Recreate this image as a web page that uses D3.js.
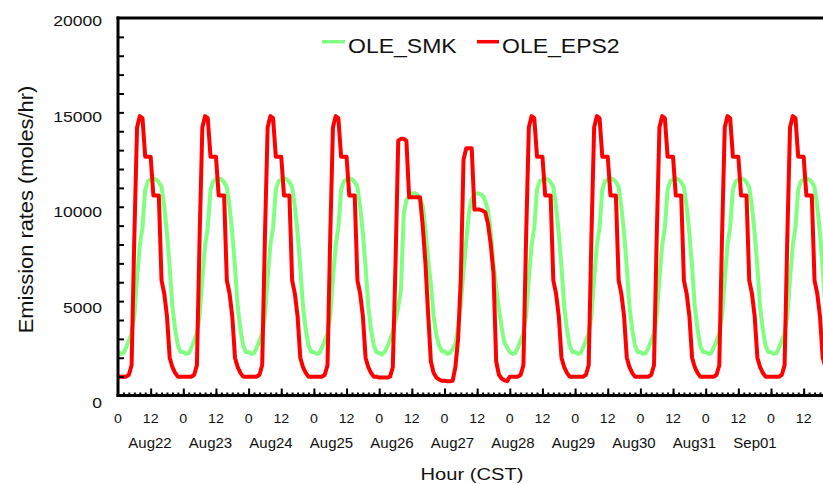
<!DOCTYPE html>
<html><head><meta charset="utf-8">
<script src="https://cdn.jsdelivr.net/npm/d3@7"></script>
<style>
body{margin:0;background:#fff}
svg{display:block}
text{font-family:"Liberation Sans",Arial,Helvetica,sans-serif;fill:#111}
</style>
</head><body>
<svg id="c" width="823" height="484"></svg>
<script>
// ---------------- data ----------------
const dayLabels = ["Aug22","Aug23","Aug24","Aug25","Aug26","Aug27","Aug28","Aug29","Aug30","Aug31","Sep01"];
const dayTypes  = ["wd","wd","wd","wd","sat","sun","wd","wd","wd","wd","wd"];
const hourTickLabels = ["0","12"];
const yTickLabels = [0,5000,10000,15000,20000];
const seriesNames = ["OLE_SMK","OLE_EPS2"];
const seriesColors = ["#80ff80","#ff0000"];

// hourly profiles (hour 0..23), moles/hr
const smkWeekday  = [2300,2200,2250,2550,2900,3300,4200,6200,7950,8900,10900,11350,11450,11500,11450,11300,11050,10000,8600,6800,4700,3500,2650,2300];
const smkSaturday = [2250,2170,2300,2600,2950,3400,4000,4700,5600,9600,10350,10550,10700,10720,10650,10400,10050,8800,7200,5900,4200,3200,2650,2350];
const smkSunday   = [2350,2200,2250,2450,2750,3600,4800,6600,8200,9700,10400,10650,10720,10680,10600,10300,9800,8700,7000,5700,4600,3600,2800,2550];

const epsWeekday  = [1000,1000,1000,1000,1100,1600,8400,14200,14800,14700,12650,12650,12650,10600,10600,10600,6100,5400,4200,2000,1500,1200,1000,1000];
const epsSaturday = [950,950,950,950,1000,1500,7000,13500,13600,13600,13500,10500,10500,10500,10500,10500,9000,7000,4300,1800,1200,950,850,780];
const epsSunday   = [780,760,760,780,1500,3000,6200,12500,13100,13100,13100,9850,9850,9850,9800,9700,9100,8000,6500,1800,1100,900,800,760];

// ---------------- build table ----------------
const profiles = {
  OLE_SMK:  {wd: smkWeekday, sat: smkSaturday, sun: smkSunday},
  OLE_EPS2: {wd: epsWeekday, sat: epsSaturday, sun: epsSunday}
};
const series = seriesNames.map((name, si) => {
  const pts = [];
  dayTypes.forEach((t, d) => {
    profiles[name][t].forEach((v, h) => pts.push({h: d*24 + h, v}));
  });
  return {name, color: seriesColors[si], pts};
});

// ---------------- layout ----------------
const svg = d3.select("#c");
const W = 823, H = 484;
const x = d3.scaleLinear().domain([0, 264]).range([118, 118 + 264*2.7208]);
const y = d3.scaleLinear().domain([0, 20000]).range([395.5, 18]);
const yLab = d3.scaleLinear().domain([0, 20000]).range([408.4, 26.4]);
const dayX = d3.scalePoint().domain(dayLabels).range([150, 755]);

function sText(parent, tx, ty, str, size, anchor, sx, rot) {
  const g = parent.append("g")
    .attr("transform", `translate(${tx},${ty})` + (rot ? ` rotate(${rot})` : "") + ` scale(${sx},1)`);
  g.append("text").attr("text-anchor", anchor).attr("font-size", size).text(str);
  return g;
}

// clip for plot
svg.append("defs").append("clipPath").attr("id","clip")
  .append("rect").attr("x",118).attr("y",16).attr("width",W-118).attr("height",382);

// lines
const line = d3.line().x(d => x(d.h)).y(d => y(d.v));
const plot = svg.append("g").attr("clip-path","url(#clip)");
series.forEach(s => {
  plot.append("path").datum(s.pts)
    .attr("d", line)
    .attr("fill","none")
    .attr("stroke", s.color)
    .attr("stroke-width", 4)
    .attr("stroke-linejoin","round")
    .attr("stroke-linecap","round");
});

// y axis ticks (inside)
const yAxis = d3.axisLeft(y).tickValues(d3.range(1000, 20000, 1000)).tickSize(-6).tickFormat("");
const ya = svg.append("g").attr("transform","translate(118,0)").call(yAxis);
ya.select(".domain").remove();
ya.selectAll(".tick line").attr("stroke","#000").attr("stroke-width",2);

// x axis ticks (inside, upward)
const xMinor = d3.axisBottom(x).tickValues(d3.range(2, 262, 2)).tickSize(-3).tickFormat("");
const xm = svg.append("g").attr("transform","translate(0,395.5)").call(xMinor);
xm.select(".domain").remove();
xm.selectAll(".tick line").attr("stroke","#000").attr("stroke-width",2);
const xMajor = d3.axisBottom(x).tickValues(d3.range(12, 262, 12)).tickSize(-7).tickFormat("");
const xM = svg.append("g").attr("transform","translate(0,395.5)").call(xMajor);
xM.select(".domain").remove();
xM.selectAll(".tick line").attr("stroke","#000").attr("stroke-width",2);

// frame lines
svg.append("line").attr("x1",116.5).attr("x2",W).attr("y1",18).attr("y2",18).attr("stroke","#000").attr("stroke-width",3);
svg.append("line").attr("x1",118).attr("x2",118).attr("y1",16.5).attr("y2",397).attr("stroke","#000").attr("stroke-width",3);
svg.append("line").attr("x1",116.5).attr("x2",W).attr("y1",395.5).attr("y2",395.5).attr("stroke","#000").attr("stroke-width",3);

// y tick labels
yTickLabels.forEach(v => sText(svg, 102, yLab(v), String(v), 15, "end", 1.17));

// x hour labels
d3.range(0, 264, 12).forEach((h, i) => {
  if (x(h) < W) sText(svg, x(h), 423, hourTickLabels[i % 2], 13.5, "middle", 1.05);
});

// day labels
dayLabels.forEach(d => sText(svg, dayX(d), 448, d, 15, "middle", 1.0));

// axis titles
sText(svg, 472, 480, "Hour (CST)", 16.5, "middle", 1.22);
sText(svg, 32.5, 209.5, "Emission rates (moles/hr)", 21, "middle", 1.04, -90);

// legend
const leg = [{x0: 322, x1: 345, tx: 348}, {x0: 477, x1: 499, tx: 502}];
series.forEach((s, i) => {
  svg.append("line").attr("x1", leg[i].x0).attr("x2", leg[i].x1)
    .attr("y1", 41.7).attr("y2", 41.7)
    .attr("stroke", s.color).attr("stroke-width", 3.5);
  sText(svg, leg[i].tx, 53.3, s.name, 19.5, "start", 1.18);
});
</script>
</body></html>
